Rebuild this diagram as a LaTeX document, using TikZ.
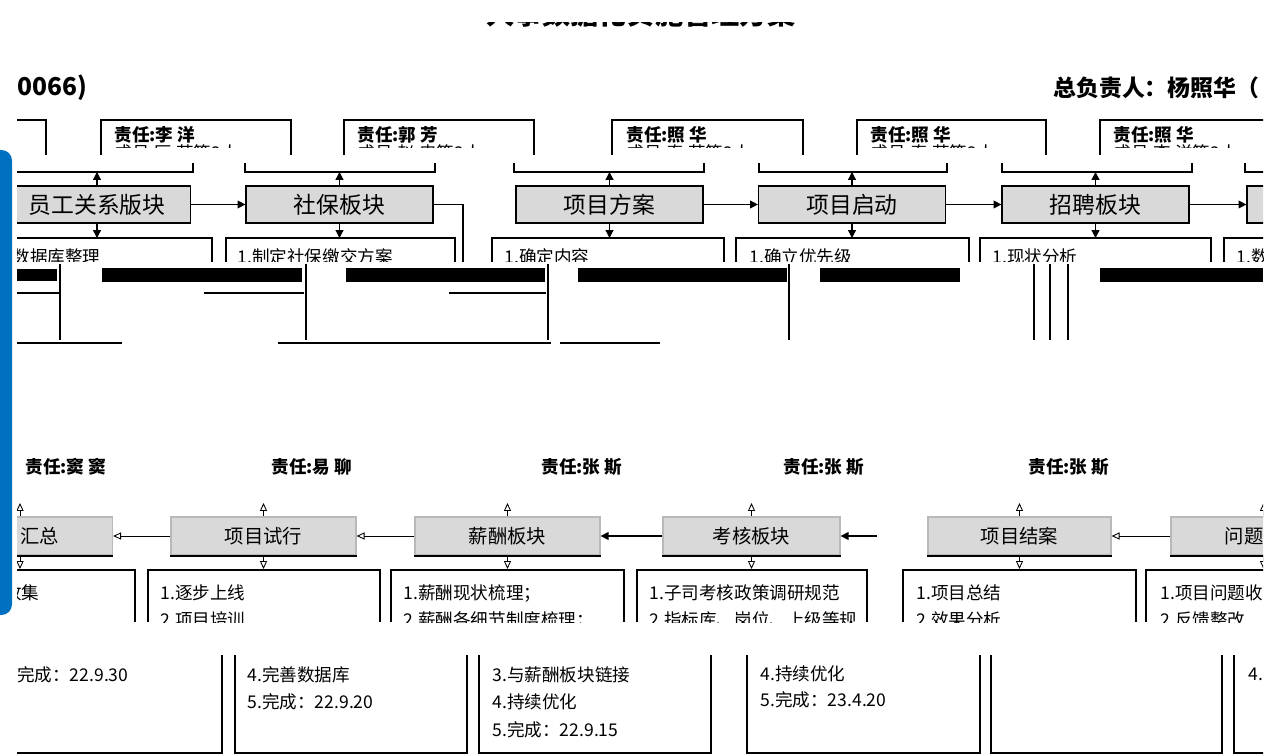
\documentclass[tikz,border=0pt]{standalone}
\usepackage{fontspec}
\setmainfont{Noto Sans CJK SC}
\usetikzlibrary{arrows.meta,positioning}
\definecolor{blkgray}{RGB}{217,217,217}
\definecolor{sidebar}{RGB}{0,112,192}
\tikzset{
  blk/.style={draw, fill=blkgray, minimum width=3.74cm, minimum height=0.74cm, inner sep=0pt, font=\fontsize{13}{15}\selectfont},
  blkb/.style={draw=gray!55, fill=blkgray, minimum width=3.7cm, minimum height=0.76cm, inner sep=0pt, font=\fontsize{11}{13}\selectfont},
  txt/.style={anchor=west, inner sep=0pt, font=\fontsize{10}{12}\selectfont},
  resp/.style={anchor=west, inner sep=0pt, font=\bfseries\fontsize{10}{12}\selectfont},
  fwd/.style={-{Triangle[length=4.5pt,width=4.5pt]}},
  hol/.style={-{Triangle[open,length=4.5pt,width=4pt]}, line width=0.5pt},
}
\begin{document}
\begin{tikzpicture}[x=0.02cm,y=-0.02cm,line width=0.7pt]
\useasboundingbox (0,0) rectangle (1281,756);
% side bar
\begin{scope}
\clip (0,0) rectangle (12,756);
\fill[sidebar,rounded corners=6pt] (-20,150) rectangle (12,615);
\end{scope}

\begin{scope}
\clip (17,0) rectangle (1263,756);
% title (only its lower edge shows)
\begin{scope}
\clip (470,23) rectangle (810,29);
\node[font=\bfseries\fontsize{16}{18}\selectfont] (title) at (641,14) {人事数据化实施管理方案};
\end{scope}
\node[anchor=west, inner sep=0pt, font=\bfseries\fontsize{14}{16}\selectfont] (code) at (17,88) {0066)};
\node[anchor=west, inner sep=0pt, font=\bfseries\fontsize{13}{15}\selectfont] (lead) at (1053,88) {总负责人：杨照华（};

% upper row
\node[blk] (b1) at (97,204.5) {员工关系版块};
\node[blk] (b2) at (339.5,204.5) {社保板块};
\node[blk] (b3) at (609.5,204.5) {项目方案};
\node[blk] (b4) at (852,204.5) {项目启动};
\node[blk] (b5) at (1095.5,204.5) {招聘板块};
\node[blk] (b6) at (1340.5,204.5) {};
\draw[fwd] (b1) -- (b2);
\draw[fwd] (b3) -- (b4);
\draw[fwd] (b4) -- (b5);
\draw[fwd] (b5) -- (b6);
\coordinate (k1) at (463,204.5);
\coordinate (k2) at (463,262);
\draw (b2.east) -- (k1) -- (k2);

% responsibility boxes
\draw (17,120) -- (46,120) -- (46,155);
\foreach \l/\r in {101/291,344/534,612/803,857/1046,1100/1291}
  \draw (\l,155) -- (\l,120) -- (\r,120) -- (\r,155);
\begin{scope}
\clip (0,100) rectangle (1300,148);
\node[resp] (r1) at (114,135) {责任:李 洋};
\node[resp] (r2) at (357,135) {责任:郭 芳};
\node[resp] (r3) at (626,135) {责任:照 华};
\node[resp] (r4) at (870,135) {责任:照 华};
\node[resp] (r5) at (1113,135) {责任:照 华};
\node[txt] (m1) at (114,153) {成员:匡 芳等2人};
\node[txt] (m2) at (357,153) {成员:赵 忠等2人};
\node[txt] (m3) at (626,153) {成员:秦 芳等2人};
\node[txt] (m4) at (870,153) {成员:秦 芳等2人};
\node[txt] (m5) at (1113,153) {成员:李 洋等2人};
\end{scope}
\draw (17,172) -- (193,172) -- (193,163);
\foreach \l/\r in {245/435,514/704,759/947,1002/1192,1245/1435}
  \draw (\l,163) -- (\l,172) -- (\r,172) -- (\r,163);

% detail boxes, upper row
\draw (17,238) -- (212,238) -- (212,262);
\foreach \l/\r in {226/455,492/724,736/969,980/1211,1224/1455}
  \draw (\l,262) -- (\l,238) -- (\r,238) -- (\r,262);
\foreach \n/\x in {1/97,2/339.5,3/609.5,4/852,5/1095.5} {
  \coordinate (u\n) at (\x,172);
  \coordinate (d\n) at (\x,238);
  \draw[fwd] (b\n.north) -- (u\n);
  \draw[fwd] (b\n.south) -- (d\n);
}
\begin{scope}
\clip (0,230) rectangle (1300,262);
\node[txt] (p1) at (12,257) {数据库整理};
\node[txt] (p2) at (237,257) {1.制定社保缴交方案};
\node[txt] (p3) at (504,257) {1.确定内容};
\node[txt] (p4) at (749,257) {1.确立优先级};
\node[txt] (p5) at (992,257) {1.现状分析};
\node[txt] (p6) at (1236,257) {1.数};
\end{scope}

% broken band
\fill (17,269) rectangle (57,281);
\fill (102,268) rectangle (302,282);
\fill (346,268) rectangle (545,282);
\fill (578,268) rectangle (787,282);
\fill (820,268) rectangle (960,282);
\fill (1100,268) rectangle (1263,282);
\foreach \x in {60,306,548,789,1034,1050,1068}
  \draw[line width=1.4pt] (\x,264) -- (\x,340);
\draw[line width=1.4pt] (17,293) -- (60,293) (204,293) -- (304,293) (449,293) -- (546,293);
\draw (17,343) -- (122,343) (278,343) -- (551,343) (560,343) -- (660,343);

% lower row
\foreach \x/\t in {25/责任:窦 窦,271/责任:易 聊,541/责任:张 斯,783/责任:张 斯,1028/责任:张 斯}
  \node[resp] at (\x,467) {\t};
\node[blkb] (c1) at (20,536) {\phantom{数据}汇总};
\node[blkb] (c2) at (263.5,536) {项目试行};
\node[blkb] (c3) at (507.5,536) {薪酬板块};
\node[blkb, minimum width=3.54cm] (c4) at (751.5,536) {考核板块};
\node[blkb, minimum width=3.66cm] (c5) at (1019.5,536) {项目结案};
\node[blkb] (c6) at (1263.5,536) {问题\phantom{反馈}};
\foreach \c in {c1,c2,c3,c4,c5,c6}
  \draw[line width=1.1pt] (\c.south west) -- (\c.south east);
\draw[hol] (c2) -- (c1);
\draw[hol] (c3) -- (c2);
\draw[fwd] (c4) -- (c3);
\coordinate (c4in) at (877,536);
\draw[fwd] (c4in) -- (c4);
\draw[hol] (c6) -- (c5);
\foreach \n/\x in {1/20,2/263.5,3/507.5,4/751.5,5/1019.5,6/1263.5} {
  \coordinate (v\n) at (\x,503);
  \coordinate (w\n) at (\x,569);
  \draw[hol] (c\n.north) -- (v\n);
  \draw[hol] (c\n.south) -- (w\n);
}

% detail boxes, lower row
\draw (17,570) -- (135,570) -- (135,622);
\foreach \l/\r in {148/380,391/624,637/867,903/1136,1146/1378}
  \draw (\l,622) -- (\l,570) -- (\r,570) -- (\r,622);
\begin{scope}
\clip (0,560) rectangle (1300,622);
\node[txt, anchor=east] (q1) at (40,593) {收集};
\node[txt] (q2) at (160,593) {1.逐步上线};
\node[txt] (q3) at (403,593) {1.薪酬现状梳理；};
\node[txt] (q4) at (649,593) {1.子司考核政策调研规范};
\node[txt] (q5) at (916,593) {1.项目总结};
\node[txt] (q6) at (1160,593) {1.项目问题收};
\node[txt] at (160,620) {2.项目培训};
\node[txt] at (403,620) {2.薪酬各细节制度梳理；};
\node[txt] at (649,620) {2.指标库、岗位、上级等规};
\node[txt] at (916,620) {2.效果分析};
\node[txt] at (1160,620) {2.反馈整改};
\end{scope}
\draw (222,655) -- (222,753) -- (17,753);
\foreach \l/\r in {235/467,479/711,747/980,991/1222,1234/1466}
  \draw (\l,655) -- (\l,753) -- (\r,753) -- (\r,655);
\node[txt] (s1) at (2,675) {5.完成：22.9.30};
\node[txt] (s2) at (247,675) {4.完善数据库};
\node[txt] at (247,702) {5.完成：22.9.20};
\node[txt] (s3) at (492,675) {3.与薪酬板块链接};
\node[txt] at (492,702) {4.持续优化};
\node[txt] at (492,730) {5.完成：22.9.15};
\node[txt] (s4) at (760,674) {4.持续优化};
\node[txt] at (760,700) {5.完成：23.4.20};
\node[txt] (s6) at (1248,674) {4.};
\end{scope}
\end{tikzpicture}
\end{document}
